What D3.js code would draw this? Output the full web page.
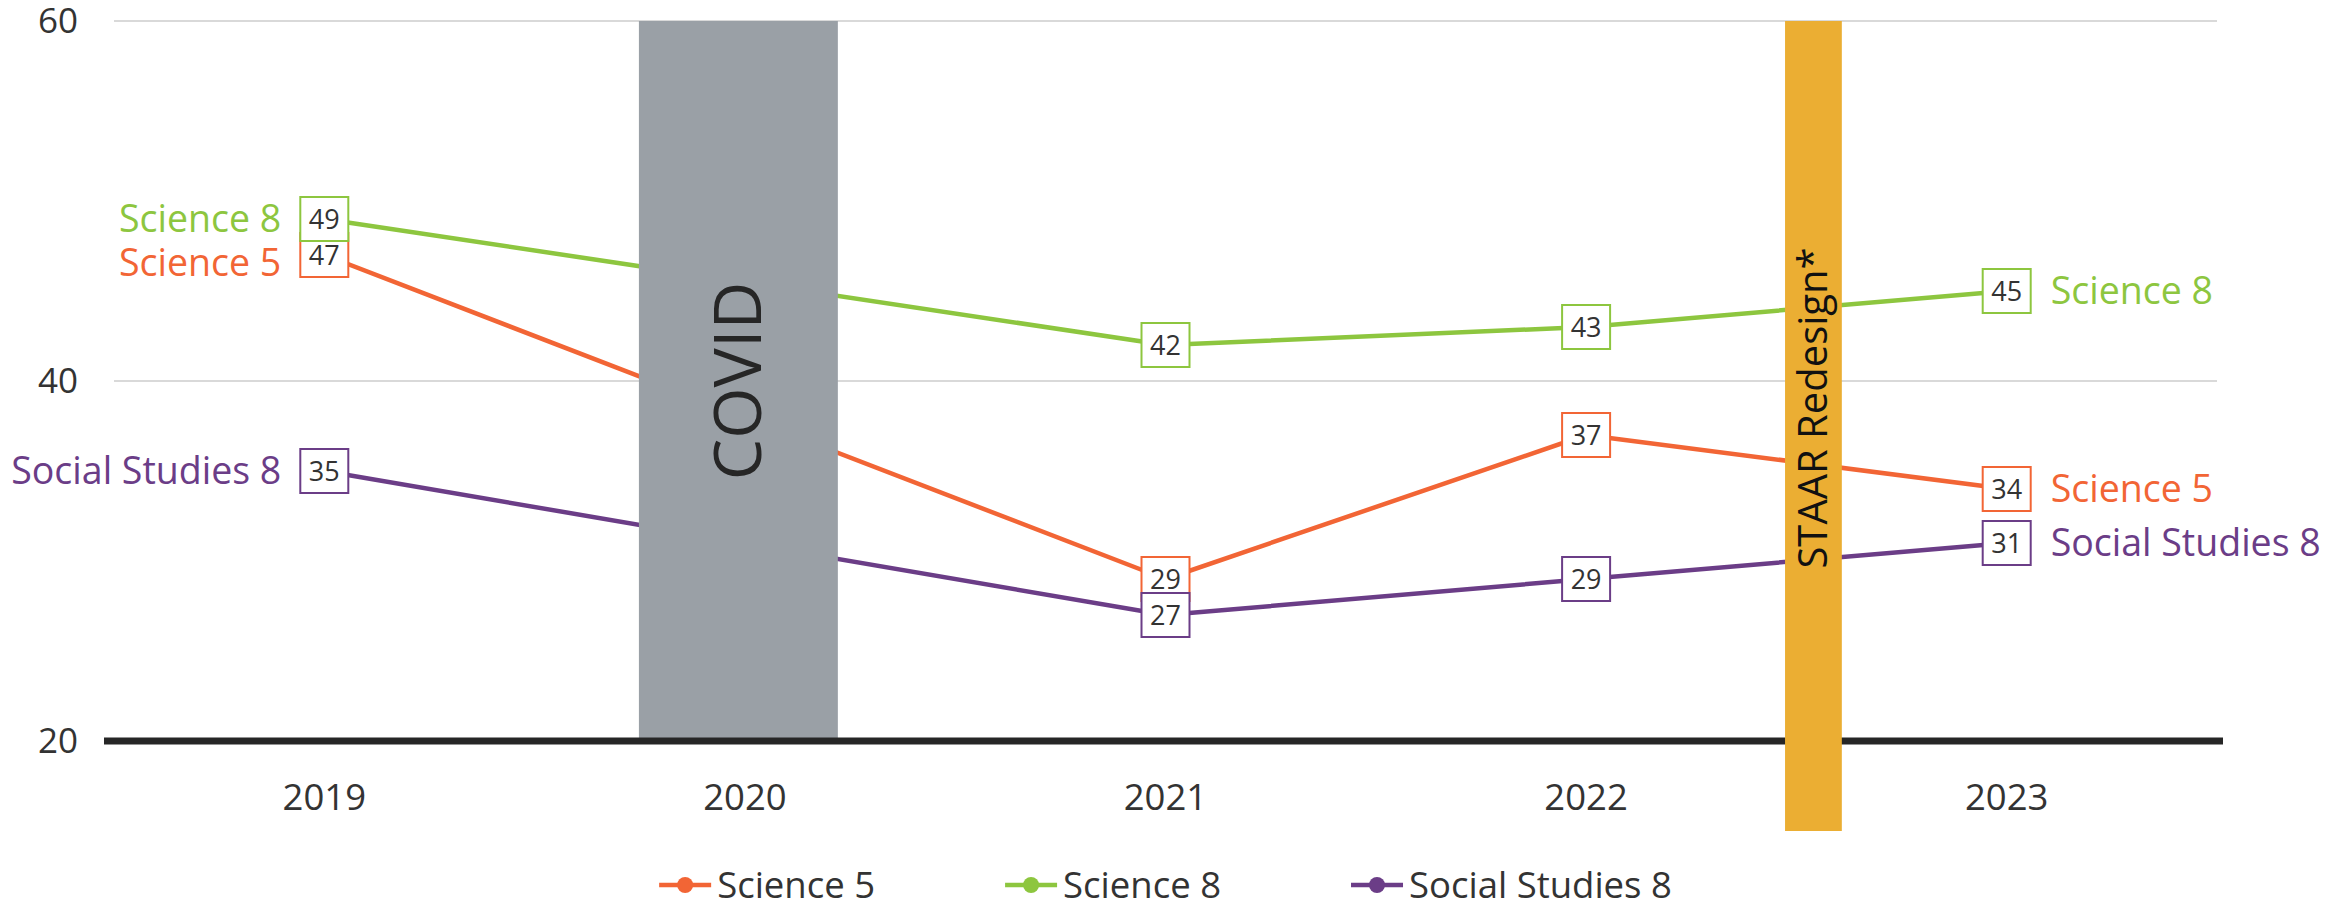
<!DOCTYPE html>
<html><head><meta charset="utf-8">
<script src="https://cdn.jsdelivr.net/npm/d3@7"></script>
<style>body{margin:0;background:#fff}svg{display:block}</style>
</head><body>
<svg id="chart" width="2343" height="908"></svg>
<script>
// ---- data ----
const years = ["2019", "2020", "2021", "2022", "2023"];
const seriesNames = ["Science 5", "Science 8", "Social Studies 8"];
const science5 = [47, null, 29, 37, 34];
const science8 = [49, null, 42, 43, 45];
const socialStudies8 = [35, null, 27, 29, 31];
const yTicks = [20, 40, 60];
// shaded annotations: label, span in category units (0 = start of 2019 band), value range
const shadeLabels = ["COVID", "STAAR Redesign*"];
const shadeStart = [1.248, 3.973];
const shadeEnd = [1.721, 4.108];
const shadeLow = [20, 15];
const shadeHigh = [60, 60];

// ---- styles ----
const colors = ["#F26535", "#8DC63F", "#6B3D87"];
const shadeColors = ["#9AA0A6", "#EBAE33"];
const font = "'Open Sans', sans-serif";

const svg = d3.select("#chart");
const x = d3.scaleBand().domain(years).range([114, 2217]);
const y = d3.scaleLinear().domain([20, 60]).range([741, 21]);
const xc = d => x(d) + x.bandwidth() / 2;
const xu = u => x.range()[0] + u * x.step();

const seriesVals = [science5, science8, socialStudies8];
const series = seriesNames.map((n, i) => ({
  name: n, color: colors[i],
  pts: years.map((yr, j) => ({ yr, v: seriesVals[i][j] })).filter(p => p.v != null)
}));

// gridlines
svg.append("g").selectAll("line").data(yTicks.filter(t => t !== 20)).join("line")
  .attr("x1", 114).attr("x2", 2217)
  .attr("y1", d => y(d)).attr("y2", d => y(d))
  .attr("stroke", "#D9D9D9").attr("stroke-width", 2);

// y tick labels
svg.append("g").selectAll("text").data(yTicks).join("text")
  .attr("x", 78).attr("y", d => y(d)).attr("dy", "0.35em")
  .attr("text-anchor", "end").attr("font-family", font).attr("font-size", 35)
  .attr("fill", "#333").text(d => d);

// lines
const line = d3.line().x(p => xc(p.yr)).y(p => y(p.v));
svg.append("g").selectAll("path").data(series).join("path")
  .attr("d", s => line(s.pts)).attr("fill", "none")
  .attr("stroke", s => s.color).attr("stroke-width", 4.5).attr("stroke-linejoin", "round");

function shade(i) {
  const g = svg.append("g");
  g.append("rect")
    .attr("x", xu(shadeStart[i])).attr("width", xu(shadeEnd[i]) - xu(shadeStart[i]))
    .attr("y", y(shadeHigh[i])).attr("height", y(shadeLow[i]) - y(shadeHigh[i]))
    .attr("fill", shadeColors[i]);
  return g;
}
const covid = shade(0);

// x axis line
svg.append("line").attr("x1", 104).attr("x2", 2223)
  .attr("y1", y(20)).attr("y2", y(20)).attr("stroke", "#262626").attr("stroke-width", 7);

const staar = shade(1);

// shade labels
const covidCx = (xu(shadeStart[0]) + xu(shadeEnd[0])) / 2;
covid.append("text").attr("transform", `translate(${covidCx},${y(40)}) rotate(-90)`)
  .attr("text-anchor", "middle").attr("dy", "0.35em")
  .attr("font-family", font).attr("font-size", 66).attr("fill", "#262626").text(shadeLabels[0]);
const staarCx = (xu(shadeStart[1]) + xu(shadeEnd[1])) / 2;
staar.append("text").attr("transform", `translate(${staarCx},${y(38.5)}) rotate(-90)`)
  .attr("text-anchor", "middle").attr("dy", "0.35em")
  .attr("font-family", font).attr("font-size", 40).attr("fill", "#111").text(shadeLabels[1]);

// x tick labels
svg.append("g").selectAll("text").data(years).join("text")
  .attr("x", d => xc(d)).attr("y", 810)
  .attr("text-anchor", "middle").attr("font-family", font).attr("font-size", 36.5)
  .attr("fill", "#333").text(d => d);

// data label boxes
const bw = 48, bh = 44;
series.forEach(s => {
  const g = svg.append("g");
  const gg = g.selectAll("g").data(s.pts).join("g")
    .attr("transform", p => `translate(${xc(p.yr)},${y(p.v)})`);
  gg.append("rect").attr("x", -bw / 2).attr("y", -bh / 2).attr("width", bw).attr("height", bh)
    .attr("fill", "#fff").attr("stroke", s.color).attr("stroke-width", 2);
  gg.append("text").attr("text-anchor", "middle").attr("dy", "0.36em")
    .attr("font-family", font).attr("font-size", 27).attr("fill", "#333").text(p => p.v);
});

// end labels (Science 5 nudged down on the left so it clears Science 8)
series.forEach((s, i) => {
  const first = s.pts[0], last = s.pts[s.pts.length - 1];
  svg.append("text").attr("x", xc(first.yr) - bw / 2 - 19).attr("y", y(first.v) + (i === 0 ? 8 : 0))
    .attr("dy", "0.35em").attr("text-anchor", "end")
    .attr("font-family", font).attr("font-size", 37.5).attr("fill", s.color).text(s.name);
  svg.append("text").attr("x", xc(last.yr) + bw / 2 + 20).attr("y", y(last.v))
    .attr("dy", "0.35em").attr("text-anchor", "start")
    .attr("font-family", font).attr("font-size", 37.5).attr("fill", s.color).text(s.name);
});

// legend
const legend = svg.append("g");
const items = legend.selectAll("g").data(series).join("g");
items.append("line").attr("x1", 0).attr("x2", 52).attr("y1", 0).attr("y2", 0)
  .attr("stroke", s => s.color).attr("stroke-width", 4.5);
items.append("circle").attr("cx", 26).attr("r", 8).attr("fill", s => s.color);
items.append("text").attr("x", 58).attr("dy", "0.35em")
  .attr("font-family", font).attr("font-size", 36.5).attr("fill", "#333").text(s => s.name);
const widths = [];
items.each(function () { widths.push(this.getBBox().width); });
const gap = 130;
const total = d3.sum(widths) + gap * (widths.length - 1);
let cx = (114 + 2217) / 2 - total / 2;
items.attr("transform", (s, i) => {
  const t = `translate(${cx},${885})`;
  cx += widths[i] + gap;
  return t;
});
</script>
</body></html>
